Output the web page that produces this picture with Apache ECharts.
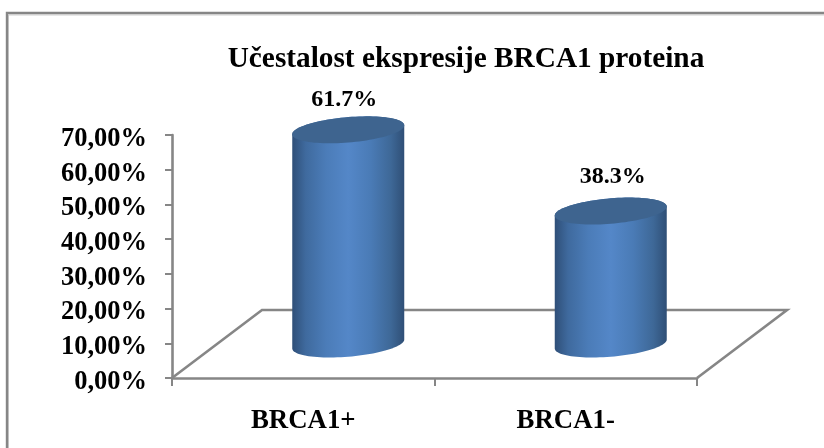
<!DOCTYPE html>
<html><head><meta charset="utf-8">
<style>html,body{margin:0;padding:0;background:#fff}#c{width:824px;height:448px}</style>
<script src="https://cdn.jsdelivr.net/npm/echarts@6/dist/echarts.min.js"></script>
</head><body><div id="c"></div>
<script>
const titleText = 'Učestalost ekspresije BRCA1 proteina';
const categories = ['BRCA1+', 'BRCA1-'];
const values = [61.7, 38.3];
const valueLabels = ['61.7%', '38.3%'];
const yTicks = [0, 10, 20, 30, 40, 50, 60, 70];

const FONT = '"Liberation Serif","Times New Roman",serif';
const AXIS = '#868686';
const AXIS_W = 2.6;
const DEPTH_X = 90, DEPTH_Y = 68;
const RX = 56, RY = 12.7, SHEAR = 4.5;
const LABEL_NUDGE = [[-4, -30.5], [2, -34.5]];
const bodyFill = {type:'linear',x:0,y:0,x2:1,y2:0,colorStops:[
  {offset:0,color:'#2f4f78'},{offset:.12,color:'#3f6a9e'},{offset:.3,color:'#4b7cb8'},
  {offset:.5,color:'#5487c8'},{offset:.7,color:'#4a7bb6'},{offset:.88,color:'#3e6897'},{offset:1,color:'#2f4f76'}]};

function ell(cx, cy, a0, a1, n) {
  const p = [];
  for (let i = 0; i <= n; i++) {
    const t = a0 + (a1 - a0) * i / n;
    p.push([cx + RX * Math.cos(t), cy + RY * Math.sin(t) - SHEAR * Math.cos(t)]);
  }
  return p;
}
const chart = echarts.init(document.getElementById('c'));
chart.setOption({
  animation: false,
  backgroundColor: '#fff',
  title: {text: titleText, left: 461, top: 40, textAlign: 'center',
    textStyle: {fontFamily: FONT, fontWeight: 'bold', fontSize: 29.3, color: '#000'}},
  graphic: [
    {type:'polyline', shape:{points:[[8.5,448],[8.5,15],[824,15]]}, silent:true,
     style:{fill:'none', stroke:'#cfcfcf', lineWidth:1}},
    {type:'polyline', shape:{points:[[7,448],[7,13],[824,13]]}, silent:true,
     style:{fill:'none', stroke:AXIS, lineWidth:2.4}}
  ],
  grid: {left:172, right:127, top:135, bottom:70},
  xAxis: {type:'category', data:categories,
    axisLine:{lineStyle:{color:AXIS,width:AXIS_W}},
    axisTick:{show:true,alignWithLabel:false,length:8,lineStyle:{color:AXIS,width:2}},
    axisLabel:{fontFamily:FONT,fontWeight:'bold',fontSize:26.8,color:'#000',margin:30}},
  yAxis: {type:'value', min:yTicks[0], max:yTicks[yTicks.length-1], interval:10,
    splitLine:{show:false},
    axisLine:{show:true,lineStyle:{color:AXIS,width:AXIS_W}},
    axisTick:{show:true,length:7,lineStyle:{color:AXIS,width:2}},
    axisLabel:{fontFamily:FONT,fontWeight:'bold',fontSize:26.5,color:'#000',margin:25,
      verticalAlign:'top',lineHeight:8,
      formatter:v=>v.toFixed(2).replace('.',',')+'%'}},
  series: [
    {type:'custom', silent:true, z:1, data:[[0,0]], encode:{x:0,y:1},
     renderItem:(p,api)=>{
       const o = api.coord([0,0]);
       const cs = p.coordSys;
       const x0 = cs.x, x1 = cs.x+cs.width, y = o[1];
       return {type:'polyline', shape:{points:[[x0,y],[x0+DEPTH_X,y-DEPTH_Y],[x1+DEPTH_X,y-DEPTH_Y],[x1,y]]},
         style:{fill:null,stroke:AXIS,lineWidth:AXIS_W}};
     }},
    {type:'custom', silent:true, z:3, data:values.map((v,i)=>[i,v]), encode:{x:0,y:1},
     renderItem:(p,api)=>{
       const i = api.value(0), v = api.value(1);
       const base = api.coord([i,0]), top = api.coord([i,v]);
       const cx = base[0]+DEPTH_X/2, by = base[1]-DEPTH_Y/2, ty = top[1]-DEPTH_Y/2;
       const bottomHalf = ell(cx,by,0,Math.PI,48);
       const topBack = ell(cx,ty,Math.PI,2*Math.PI,48);
       return {type:'group',children:[
         {type:'polygon',shape:{points:bottomHalf.concat(topBack)},style:{fill:bodyFill}},
         {type:'polygon',shape:{points:ell(cx,ty,0,2*Math.PI,96)},style:{fill:'#3e648f'}},
         {type:'text',style:{text:valueLabels[i],x:cx+LABEL_NUDGE[i][0],y:ty+LABEL_NUDGE[i][1],
           align:'center',verticalAlign:'middle',fontFamily:FONT,fontWeight:'bold',fontSize:24,fill:'#000'}}
       ]};
     }}
  ]
});
</script></body></html>
